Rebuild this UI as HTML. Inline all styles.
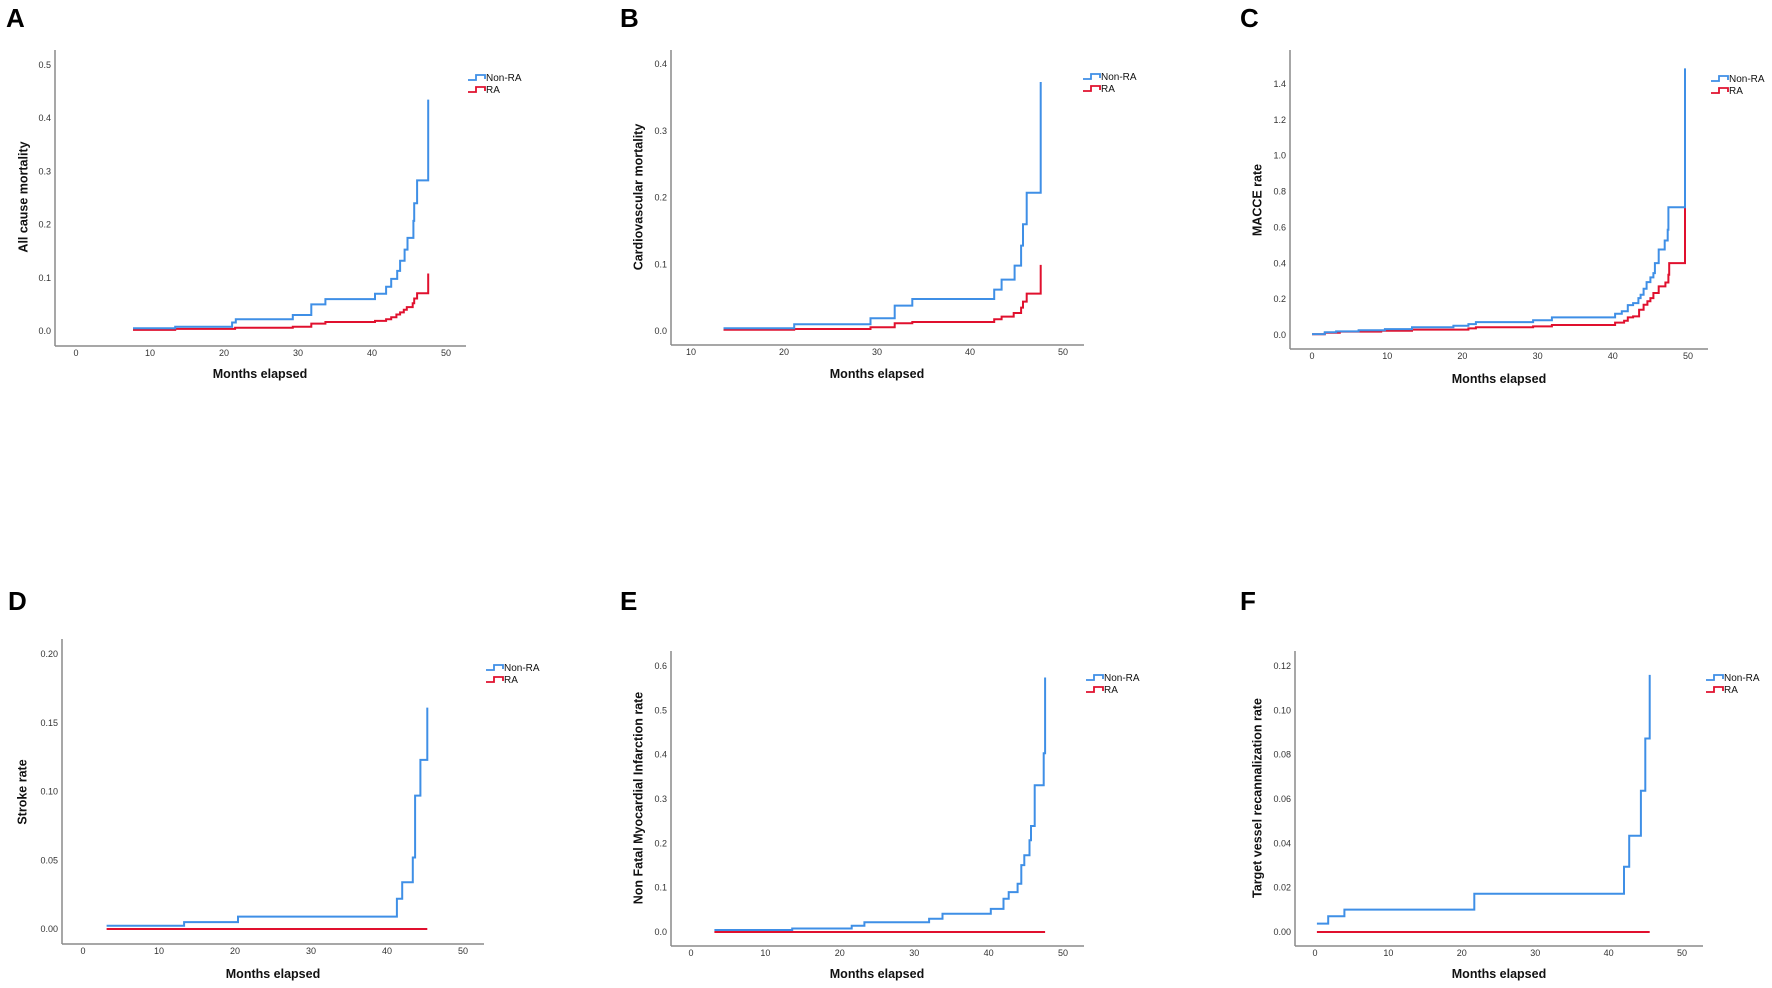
<!DOCTYPE html>
<html><head><meta charset="utf-8">
<style>
html,body{margin:0;padding:0;background:#fff;}
svg{display:block;font-family:"Liberation Sans",Arial,sans-serif;}
.tick{font-size:9px;fill:#333;}
.ttl{font-size:12.5px;font-weight:bold;fill:#111;}
.leg{font-size:10px;fill:#111;}
.lbl{font-size:26px;font-weight:bold;fill:#000;}
</style></head>
<body>
<svg id="fig" width="1772" height="988" viewBox="0 0 1772 988"></svg>
<script>
// ---- Data arrays (months, cumulative rate) ----
const aNonT=[7.7,13.4,21.1,21.6,29.3,31.8,33.7,40.4,41.9,42.6,43.4,43.8,44.4,44.8,45.6,45.7,46.1,47.6];
const aNonV=[0.005,0.008,0.016,0.022,0.030,0.050,0.060,0.070,0.083,0.098,0.113,0.132,0.153,0.175,0.207,0.240,0.283,0.435];
const aRaT=[7.7,13.4,21.5,29.3,31.8,33.7,40.4,41.9,42.6,43.3,43.8,44.3,44.7,45.5,45.7,46.1,47.6];
const aRaV=[0.002,0.004,0.006,0.008,0.014,0.017,0.019,0.022,0.026,0.031,0.035,0.040,0.045,0.052,0.061,0.071,0.108];

const bNonT=[13.5,21.1,29.3,31.9,33.8,42.6,43.4,44.8,45.5,45.7,46.1,47.6];
const bNonV=[0.004,0.010,0.019,0.038,0.048,0.062,0.077,0.098,0.128,0.160,0.207,0.373];
const bRaT=[13.5,21.1,29.3,31.9,33.8,42.6,43.4,44.7,45.5,45.7,46.1,47.6];
const bRaV=[0.002,0.003,0.0055,0.0115,0.0135,0.0175,0.0215,0.027,0.035,0.044,0.056,0.099];

const cNonT=[0,1.7,3.2,6.2,9.7,13.3,18.8,20.8,21.8,29.4,31.9,40.3,41.2,42.0,42.7,43.4,43.7,44.1,44.5,45.0,45.4,45.6,46.1,46.9,47.3,47.4,49.6];
const cNonV=[0.005,0.015,0.020,0.026,0.033,0.043,0.052,0.061,0.072,0.082,0.098,0.119,0.132,0.167,0.178,0.206,0.225,0.258,0.295,0.321,0.345,0.401,0.477,0.527,0.587,0.713,1.487];
const cRaT=[0,1.7,3.7,9.2,13.3,20.8,21.8,29.4,31.9,40.3,41.5,42.0,42.7,43.5,44.1,44.6,45.0,45.4,46.1,47.0,47.4,47.5,49.6];
const cRaV=[0.004,0.013,0.019,0.024,0.030,0.037,0.043,0.048,0.056,0.069,0.080,0.098,0.104,0.141,0.169,0.188,0.206,0.234,0.271,0.293,0.336,0.401,0.832];

const dNonT=[3.1,13.3,20.4,41.3,42.0,43.4,43.7,44.4,45.3];
const dNonV=[0.0024,0.005,0.009,0.022,0.034,0.052,0.097,0.123,0.161];
const dRaT=[3.1,45.3];
const dRaV=[0,0];

const eNonT=[3.15,13.6,21.6,23.3,32.0,33.8,40.3,42.0,42.7,43.9,44.4,44.8,45.5,45.7,46.2,47.4,47.6];
const eNonV=[0.0045,0.008,0.014,0.022,0.030,0.041,0.052,0.075,0.090,0.109,0.151,0.173,0.207,0.239,0.331,0.403,0.574];
const eRaT=[3.15,47.6];
const eRaV=[0,0];

const fNonT=[0.26,1.8,4.0,21.7,42.1,42.8,44.4,45.0,45.6];
const fNonV=[0.0038,0.0071,0.0101,0.0173,0.0294,0.0434,0.0637,0.0873,0.116];
const fRaT=[0.26,45.6];
const fRaV=[0,0];

const xTicksAll=[0,10,20,30,40,50];
const xTicksB=[10,20,30,40,50];
const yTicksA=[0,0.1,0.2,0.3,0.4,0.5];
const yTicksB=[0,0.1,0.2,0.3,0.4];
const yTicksC=[0,0.2,0.4,0.6,0.8,1.0,1.2,1.4];
const yTicksD=[0,0.05,0.10,0.15,0.20];
const yTicksE=[0,0.1,0.2,0.3,0.4,0.5,0.6];
const yTicksF=[0,0.02,0.04,0.06,0.08,0.10,0.12];

// ---- Layout (pixel geometry) ----
const panels=[
 {id:'a',letter:'A',lx:6,ly:27,ax:55,top:50,bot:346,right:466,x0v:0,x0p:76,x1v:50,x1p:446,y0p:331,y1v:0.5,y1p:65,ytx:24,yty:197,xtx:260,xty:378,legx:468,legy:77,ytitle:'All cause mortality',xt:xTicksAll,yt:yTicksA,dec:1,non:[aNonT,aNonV],ra:[aRaT,aRaV]},
 {id:'b',letter:'B',lx:620,ly:27,ax:671,top:50,bot:345,right:1084,x0v:10,x0p:691,x1v:50,x1p:1063,y0p:331,y1v:0.4,y1p:64,ytx:639,yty:197,xtx:877,xty:378,legx:1083,legy:76,ytitle:'Cardiovascular mortality',xt:xTicksB,yt:yTicksB,dec:1,non:[bNonT,bNonV],ra:[bRaT,bRaV]},
 {id:'c',letter:'C',lx:1240,ly:27,ax:1290,top:50,bot:349,right:1708,x0v:0,x0p:1312,x1v:50,x1p:1688,y0p:335,y1v:1.4,y1p:84,ytx:1258,yty:200,xtx:1499,xty:383,legx:1711,legy:78,ytitle:'MACCE rate',xt:xTicksAll,yt:yTicksC,dec:1,non:[cNonT,cNonV],ra:[cRaT,cRaV]},
 {id:'d',letter:'D',lx:8,ly:610,ax:62,top:639,bot:944,right:484,x0v:0,x0p:83,x1v:50,x1p:463,y0p:929,y1v:0.20,y1p:654,ytx:23,yty:792,xtx:273,xty:978,legx:486,legy:667,ytitle:'Stroke rate',xt:xTicksAll,yt:yTicksD,dec:2,non:[dNonT,dNonV],ra:[dRaT,dRaV]},
 {id:'e',letter:'E',lx:620,ly:610,ax:671,top:651,bot:946,right:1084,x0v:0,x0p:691,x1v:50,x1p:1063,y0p:932,y1v:0.6,y1p:666,ytx:639,yty:798,xtx:877,xty:978,legx:1086,legy:677,ytitle:'Non Fatal Myocardial Infarction rate',xt:xTicksAll,yt:yTicksE,dec:1,non:[eNonT,eNonV],ra:[eRaT,eRaV]},
 {id:'f',letter:'F',lx:1240,ly:610,ax:1295,top:651,bot:946,right:1703,x0v:0,x0p:1315,x1v:50,x1p:1682,y0p:932,y1v:0.12,y1p:666,ytx:1258,yty:798,xtx:1499,xty:978,legx:1706,legy:677,ytitle:'Target vessel recannalization rate',xt:xTicksAll,yt:yTicksF,dec:2,non:[fNonT,fNonV],ra:[fRaT,fRaV]}
];
const BLUE='#3f8fe6', RED='#e0102e', AX='#8a8a8a';
const NS='http://www.w3.org/2000/svg';
const svg=document.getElementById('fig');
function mk(tag,attrs,parent,txt){const e=document.createElementNS(NS,tag);for(const k in attrs)e.setAttribute(k,attrs[k]);if(txt!==undefined)e.textContent=txt;(parent||svg).appendChild(e);return e;}

panels.forEach(p=>{
  const g=mk('g',{});
  
  
  const xs=v=>p.x0p+(v-p.x0v)*(p.x1p-p.x0p)/(p.x1v-p.x0v);
  const ys=v=>p.y0p+v*(p.y1p-p.y0p)/p.y1v;
  const lt=mk('text',{x:p.lx,y:p.ly,class:'lbl'},g,p.letter);
  
  
  const yax=mk('line',{x1:p.ax,y1:p.top,x2:p.ax,y2:p.bot,stroke:AX,'stroke-width':1.5},g);
  
  
  const xax=mk('line',{x1:p.ax,y1:p.bot,x2:p.right,y2:p.bot,stroke:AX,'stroke-width':1.5},g);
  
  
  p.xt.forEach(v=>{
    const t=mk('text',{x:xs(v),y:p.bot+10,class:'tick','text-anchor':'middle'},g,String(v));
    
    
  });
  p.yt.forEach(v=>{
    const t=mk('text',{x:p.ax-4,y:ys(v)+3,class:'tick','text-anchor':'end'},g,v.toFixed(p.dec));
    
    
  });
  const yt=mk('text',{x:p.ytx,y:p.yty,class:'ttl','text-anchor':'middle',transform:'rotate(-90 '+p.ytx+' '+p.yty+')','dominant-baseline':'middle'},g,p.ytitle);
  
  
  const xt=mk('text',{x:p.xtx,y:p.xty,class:'ttl','text-anchor':'middle'},g,'Months elapsed');
  
  
  function stepPath(T,V){
    let d='M'+xs(T[0]).toFixed(1)+','+ys(V[0]).toFixed(1);
    for(let i=1;i<T.length;i++){d+=' H'+xs(T[i]).toFixed(1)+' V'+ys(V[i]).toFixed(1);}
    return d;
  }
  const rl=mk('path',{d:stepPath(p.ra[0],p.ra[1]),fill:'none',stroke:RED,'stroke-width':2},g);
  
  
  const nl=mk('path',{d:stepPath(p.non[0],p.non[1]),fill:'none',stroke:BLUE,'stroke-width':2},g);
  
  
  [['Non-RA',BLUE,p.legy],['RA',RED,p.legy+12]].forEach(([lab,col,y])=>{
    const lg=mk('g',{},g);
    
    
    mk('path',{d:'M'+p.legx+','+(y+3)+' H'+(p.legx+8)+' V'+(y-2)+' H'+(p.legx+17)+' V'+(y+2),fill:'none',stroke:col,'stroke-width':1.8},lg);
    mk('text',{x:p.legx+18,y:y+4,class:'leg'},lg,lab);
  });
});
</script>
</body></html>
